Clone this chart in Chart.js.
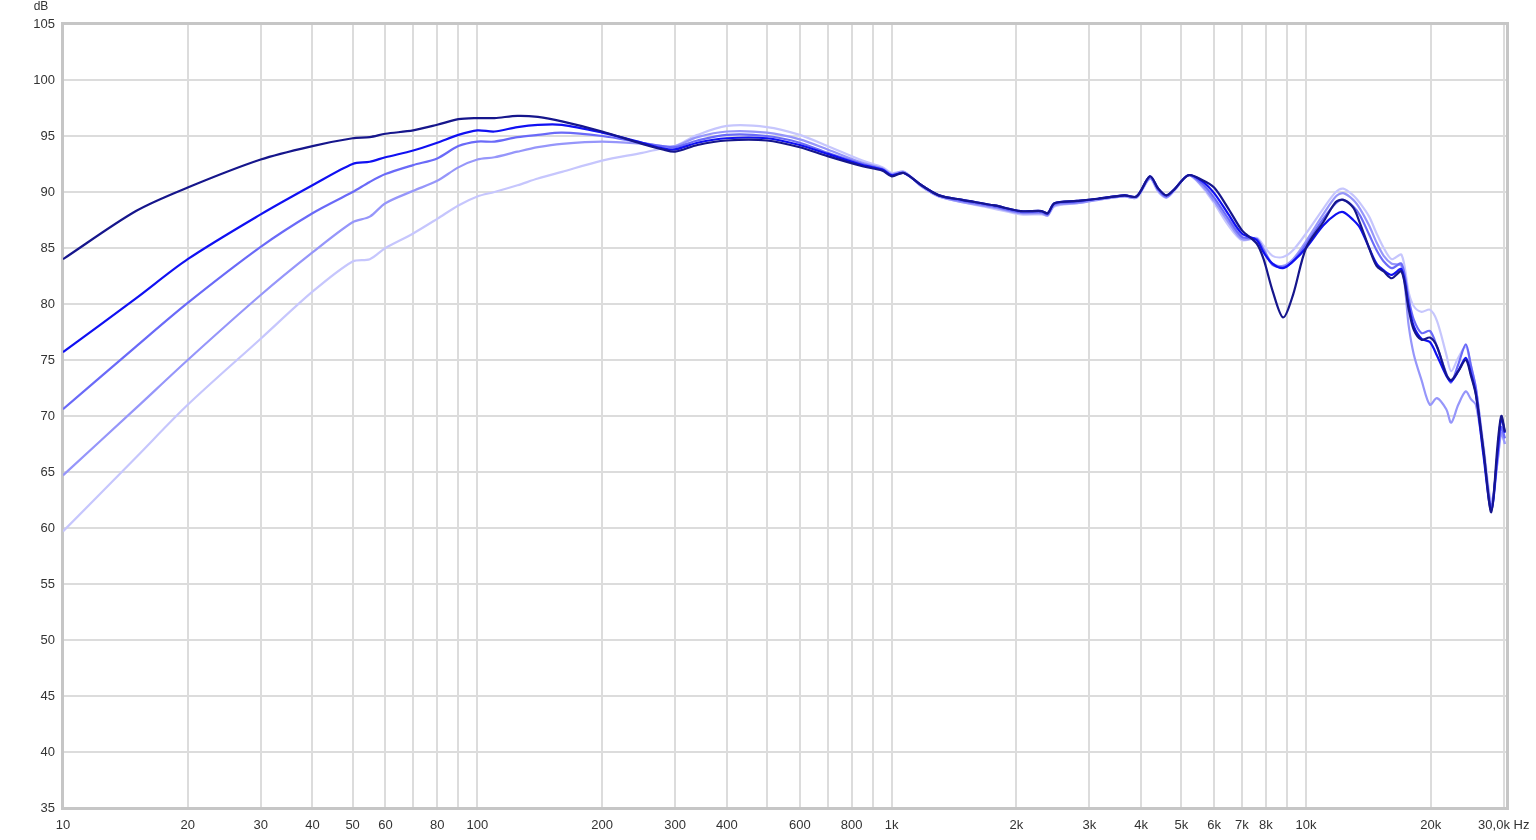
<!DOCTYPE html>
<html>
<head>
<meta charset="utf-8">
<script src="https://cdn.jsdelivr.net/npm/chart.js@4.4.0/dist/chart.umd.min.js"></script>
<style>
  html, body { margin: 0; padding: 0; background: #fff; }
  #wrap { width: 1536px; height: 840px; }
</style>
</head>
<body>
<div id="wrap"><canvas id="fr" width="1536" height="840"></canvas></div>
<script>
// frequency points (Hz) shared by every measurement
const freqs = [
  10, 15, 20, 30, 40, 50, 55, 60, 70, 80, 90, 100, 110, 125, 140, 160,
  200, 250, 280, 300, 340, 400, 500, 600, 700, 850, 950, 1000,
  1070, 1180, 1300, 1480, 1770, 2050, 2300, 2380, 2470, 2800, 3150, 3650, 3900, 4200, 4400, 4600, 4800, 5200,
  5600, 6000, 6500, 7000, 7600, 7900, 8300, 8800, 9300, 10000, 11000, 11800, 12300, 13000, 13500, 14200,
  14800, 15400, 16100, 17000, 17700, 18200, 19000, 19900, 20700, 21800, 22400, 23300, 24300, 25000,
  25700, 26800, 28000, 29000, 29600, 30200
];

// dB levels, darkest curve first
const curve1 = [
  84.0, 88.3, 90.4, 92.9, 94.1, 94.8, 94.9, 95.2, 95.5, 96.0, 96.5, 96.6, 96.6, 96.8, 96.7, 96.3,
  95.4, 94.3, 93.8, 93.6, 94.2, 94.6, 94.6, 94.0, 93.2, 92.3, 91.9, 91.4,
  91.7, 90.6, 89.7, 89.3, 88.8, 88.3, 88.3, 88.1, 89.0, 89.2, 89.4, 89.7, 89.6, 91.4, 90.3, 89.7, 90.2, 91.5,
  91.1, 90.4, 88.5, 86.6, 85.4, 84.0, 81.2, 78.8, 80.8, 85.0, 87.3, 89.1, 89.3, 88.6, 87.2, 85.0,
  83.4, 82.9, 82.3, 82.9, 79.5, 77.7, 76.8, 77.0, 76.2, 73.7, 73.2, 74.0, 75.0, 73.6,
  71.9, 67.0, 61.4, 67.5, 70.0, 68.6
];
const curve2 = [
  75.7, 80.5, 84.0, 88.0, 90.6, 92.5, 92.7, 93.1, 93.7, 94.4, 95.1, 95.5, 95.4, 95.8, 96.0, 96.0,
  95.3, 94.4, 93.9, 93.8, 94.4, 94.8, 94.8, 94.2, 93.4, 92.4, 92.0, 91.5,
  91.7, 90.6, 89.7, 89.3, 88.8, 88.3, 88.3, 88.1, 89.0, 89.2, 89.4, 89.7, 89.6, 91.4, 90.3, 89.7, 90.2, 91.5,
  91.0, 89.9, 88.0, 86.3, 85.7, 84.6, 83.6, 83.2, 83.8, 85.0, 87.0, 88.0, 88.2, 87.5, 86.8, 85.0,
  83.6, 83.0, 82.6, 83.1, 79.8, 78.0, 76.9, 76.6, 75.4, 73.6, 73.1, 74.0, 75.2, 73.8,
  72.0, 66.5, 61.6, 66.8, 69.8, 68.5
];
const curve3 = [
  70.6, 76.2, 80.1, 85.1, 88.1, 90.0, 90.9, 91.6, 92.4, 93.0, 94.1, 94.5, 94.5, 94.9, 95.1, 95.3,
  95.0, 94.4, 94.1, 94.0, 94.6, 95.1, 95.0, 94.4, 93.5, 92.5, 92.0, 91.5,
  91.7, 90.6, 89.7, 89.2, 88.7, 88.2, 88.2, 88.0, 88.9, 89.1, 89.4, 89.7, 89.6, 91.3, 90.2, 89.6, 90.2, 91.5,
  90.8, 89.5, 87.6, 86.0, 85.8, 84.8, 83.5, 83.3, 83.8, 85.3, 87.6, 89.0, 89.3, 88.7, 87.9, 86.2,
  84.8, 83.8, 83.2, 83.6, 80.4, 78.6, 77.4, 77.6, 76.2, 73.8, 73.0, 74.6, 76.4, 74.5,
  72.5, 67.0, 62.0, 66.5, 69.0, 68.0
];
const curve4 = [
  64.7, 70.7, 75.0, 80.8, 84.6, 87.3, 87.8, 89.0, 90.1, 91.0, 92.2, 92.9, 93.1, 93.6, 94.0, 94.3,
  94.5, 94.3, 94.1, 94.1, 94.9, 95.4, 95.3, 94.7, 93.8, 92.6, 92.1, 91.6,
  91.8, 90.5, 89.6, 89.1, 88.6, 88.1, 88.1, 87.9, 88.8, 89.0, 89.3, 89.6, 89.5, 91.2, 90.1, 89.5, 90.1, 91.5,
  90.6, 89.2, 87.3, 85.8, 85.8, 84.9, 83.6, 83.4, 84.0, 85.6, 88.0, 89.6, 89.9, 89.3, 88.5, 87.0,
  85.5, 84.3, 83.6, 83.4, 78.0, 75.5, 73.2, 71.0, 71.6, 70.6, 69.4, 71.0, 72.2, 71.5,
  71.0, 66.8, 61.8, 66.0, 68.5, 67.5
];
const curve5 = [
  59.7, 66.3, 71.0, 76.9, 81.1, 83.8, 84.0, 85.0, 86.3, 87.6, 88.8, 89.6, 90.0, 90.6, 91.2, 91.8,
  92.8, 93.5, 93.9, 94.1, 95.1, 95.9, 95.8, 95.1, 94.1, 92.8, 92.2, 91.7,
  91.8, 90.5, 89.6, 89.1, 88.5, 88.0, 88.0, 87.9, 88.7, 89.0, 89.3, 89.6, 89.5, 91.2, 90.0, 89.5, 90.1, 91.5,
  90.5, 89.0, 87.0, 85.7, 85.9, 85.2, 84.3, 84.2, 84.8, 86.3, 88.5, 90.0, 90.3, 89.7, 89.0, 87.8,
  86.3, 85.0, 84.0, 84.4, 81.0, 79.8, 79.3, 79.5, 78.5, 75.5, 74.0, 75.2, 76.2, 74.5,
  72.5, 67.5, 62.4, 66.0, 68.5, 67.5
];

const curves = [curve1, curve2, curve3, curve4, curve5];
const colors = ["#16168c", "#1010f2", "#6a6af8", "#9696fa", "#c6c6fd"];

// x grid lines and the ones that get a label
const xGrid = [];
for (let d = 10; d <= 10000; d *= 10) {
  for (let m = 1; m <= 9; m++) {
    if (m * d <= 30000) xGrid.push(m * d);
  }
}
const xLabels = {
  10: "10", 20: "20", 30: "30", 40: "40", 50: "50", 60: "60", 80: "80", 100: "100",
  200: "200", 300: "300", 400: "400", 600: "600", 800: "800", 1000: "1k",
  2000: "2k", 3000: "3k", 4000: "4k", 5000: "5k", 6000: "6k", 7000: "7k", 8000: "8k",
  10000: "10k", 20000: "20k", 30000: "30,0k Hz"
};

const datasets = curves.map((c, i) => ({
  data: freqs.map((f, k) => ({ x: f, y: c[k] })),
  borderColor: colors[i],
  borderWidth: 2.2,
  pointRadius: 0,
  tension: 0.3,
  showLine: true,
  fill: false,
}));

const framePlugin = {
  id: "frame",
  beforeDatasetsDraw(chart) {
    const { ctx, chartArea: a } = chart;
    ctx.save();
    ctx.strokeStyle = "#c6c6c6";
    ctx.lineWidth = 3;
    ctx.strokeRect(a.left - 0.5, a.top - 0.5, a.right - a.left + 1, a.bottom - a.top + 1);
    ctx.restore();
  },
  afterDraw(chart) {
    const { ctx, chartArea: a } = chart;
    ctx.save();
    ctx.fillStyle = "#333";
    ctx.font = "12px 'Liberation Sans', Arial, sans-serif";
    ctx.textAlign = "center";
    ctx.textBaseline = "middle";
    ctx.fillText("dB", 41, 7);
    ctx.restore();
  },
};

new Chart(document.getElementById("fr"), {
  type: "scatter",
  data: { datasets },
  options: {
    responsive: false,
    animation: false,
    layout: { padding: { left: 0, right: 29, top: 24, bottom: 0 } },
    plugins: { legend: { display: false }, tooltip: { enabled: false } },
    scales: {
      x: {
        type: "logarithmic",
        min: 10,
        max: 30550,
        afterBuildTicks: (s) => { s.ticks = xGrid.map((v) => ({ value: v })); },
        afterFit: (s) => { s.height = 32; s.paddingLeft = 0; s.paddingRight = 0; },
        grid: { color: "#dcdcdc", lineWidth: 2, drawTicks: false },
        border: { display: false },
        ticks: {
          autoSkip: false,
          maxRotation: 0,
          padding: 10,
          color: "#333",
          font: { family: "'Liberation Sans', Arial, sans-serif", size: 13 },
          callback: (v) => xLabels[v] || "",
        },
      },
      y: {
        min: 35,
        max: 105,
        afterFit: (s) => { s.width = 63; s.paddingTop = 0; s.paddingBottom = 0; },
        grid: { color: "#dcdcdc", lineWidth: 2, drawTicks: false },
        border: { display: false },
        ticks: {
          stepSize: 5,
          padding: 8,
          color: "#333",
          font: { family: "'Liberation Sans', Arial, sans-serif", size: 13 },
        },
      },
    },
  },
  plugins: [framePlugin],
});
</script>
</body>
</html>
